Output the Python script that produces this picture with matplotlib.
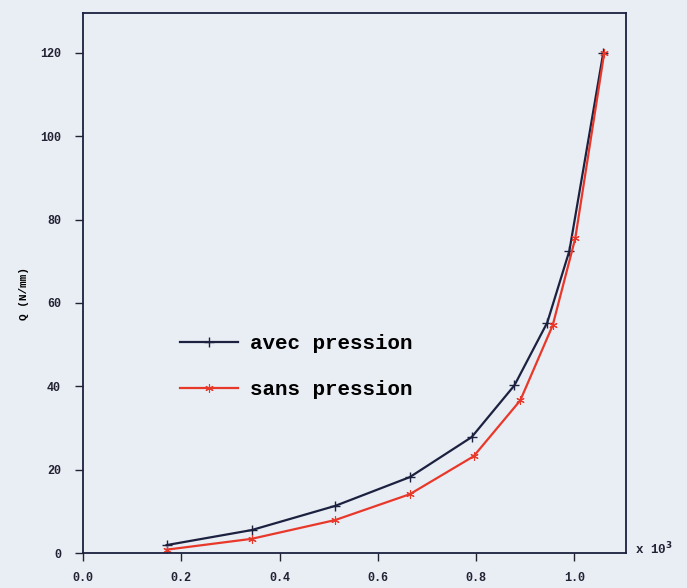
import matplotlib
matplotlib.use("Agg")
import matplotlib.pyplot as plt

# values (x in units of 10^3)
x_avec = [0.170, 0.343, 0.513, 0.665, 0.791, 0.878, 0.945, 0.990, 1.059]
q_avec = [1.9, 5.5, 11.3, 18.2, 27.8, 40.2, 55.3, 72.5, 120.0]
x_sans = [0.170, 0.343, 0.513, 0.665, 0.795, 0.890, 0.956, 1.002, 1.061]
q_sans = [0.8, 3.4, 7.9, 14.1, 23.2, 36.6, 54.6, 75.5, 120.0]
xticks = [0.0, 0.2, 0.4, 0.6, 0.8, 1.0]
yticks = [0, 20, 40, 60, 80, 100, 120]

bg = '#e9edf4'
plt.rcParams['font.family'] = ['Liberation Mono', 'DejaVu Sans Mono']
plt.rcParams['font.weight'] = 'bold'

fig = plt.figure(figsize=(6.87, 5.88), dpi=100, facecolor=bg)
ax = fig.add_axes([0.121, 0.0595, 0.79, 0.918], facecolor=bg)

ax.plot(x_avec, q_avec, color='#1c2140', lw=1.6, marker='+', ms=7, mew=1.0,
        label='avec pression')
ax.plot(x_sans, q_sans, color='#e8382a', lw=1.6, marker=(6, 2, 0), ms=6, mew=0.8,
        label='sans pression')

ax.set_xlim(0, 1.105)
ax.set_ylim(0, 129.5)
ax.set_xticks(xticks)
ax.set_xticklabels(['%.1f' % v for v in xticks])
ax.set_yticks(yticks)
ax.tick_params(axis='both', direction='out', length=6, width=1, labelsize=8.5,
               colors='#222233', pad=10)
ax.tick_params(axis='x', pad=8)
for lab in ax.get_xticklabels() + ax.get_yticklabels():
    lab.set_fontweight('bold')
for sp in ax.spines.values():
    sp.set_color('#1c2140')
    sp.set_linewidth(1.3)

ax.set_ylabel('Q (N/mm)', fontsize=8, fontweight='bold')
ax.yaxis.set_label_coords(-0.1, 0.48)
fig.text(0.925, 0.066, r'x 10$^3$', fontsize=9, fontweight='bold', color='#222233',
         va='center', ha='left')

leg = ax.legend(loc='upper left', bbox_to_anchor=(0.179, 0.406), frameon=False,
                borderpad=0, borderaxespad=0, handlelength=2.75,
                handletextpad=0.6, labelspacing=1.3,
                prop={'weight': 'bold', 'size': 15})

fig.savefig('out.png', dpi=100, facecolor=bg)
